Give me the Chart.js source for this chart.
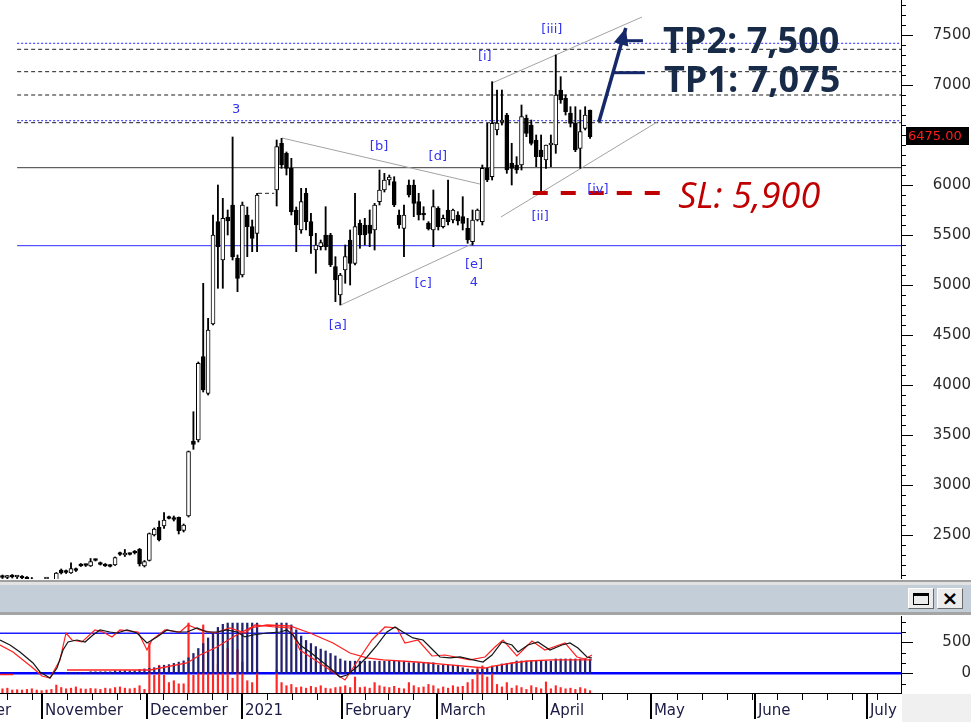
<!DOCTYPE html>
<html>
<head>
<meta charset="utf-8">
<script src="https://cdn.jsdelivr.net/npm/chart.js@4.4.1/dist/chart.umd.min.js"></script>
<style>
  body { margin:0; background:#fff; width:971px; height:722px; overflow:hidden; position:relative; }
  canvas { position:absolute; left:0; }
  #main { top:0; }
  #ind { top:615px; }
  .strip { position:absolute; left:0; width:971px; }
  .btn { position:absolute; top:588px; width:26px; height:21px; background:#ececec; box-sizing:border-box;
         border:1px solid; border-color:#fff #6a6a6a #6a6a6a #fff; }
</style>
</head>
<body>
<div class="strip" style="top:580px;height:2px;background:#a0a0a0"></div>
<div class="strip" style="top:582px;height:3px;background:#e2e2e2"></div>
<div class="strip" style="top:585px;height:27px;background:#c3ced9"></div>
<div class="strip" style="top:612px;height:3px;background:#a4a4a4"></div>
<div class="btn" style="left:908px"><div style="position:absolute;left:4px;top:4px;width:16px;height:12px;box-sizing:border-box;border:1px solid #000;border-top-width:3px"></div></div>
<div class="btn" style="left:937px;font:bold 20px 'DejaVu Sans';line-height:18px;text-align:center;color:#000">×</div>
<div style="position:absolute;left:902px;top:694px;width:69px;height:28px;background:#f0f0f0"></div>
<canvas id="main" width="971" height="579"></canvas>
<canvas id="ind" width="971" height="107"></canvas>
<script>
// daily candles, one per trading-day slot (null = no session)
const candleOpen = [
  2085,2075,2090,2080,2085,2070,2060,2030,2000,1980,
  1995,2045,2150,2140,2120,2160,2205,2205,2190,2255,
  2220,2210,2200,2200,2320,2300,2315,2330,2357,2190,
  2245,2500,2577,2590,2675,2670,2677,2545,2690,3440,
  3450,4283,3917,4610,5633,5250,5680,5800,5267,5100,
  5700,5583,5517,null,null,null,5950,6417,6317,6167,
  5750,5550,5917,5633,5350,5383,5500,5500,5183,4900,
  5150,5450,5217,5617,5600,5600,5550,5833,5950,6050,
  6033,5700,5567,6000,6000,5833,5720,5620,5550,5767,
  5583,5750,5650,5700,5683,5567,5433,5650,5633,6167,
  6083,6550,6630,6700,6217,6200,6200,6667,6600,6450,
  6350,6250,6400,6400,6950,6867,6720,6617,6367,6567,6750];
const candleHigh = [
  2100,2095,2105,2095,2095,2085,2075,2050,2020,2010,
  2040,2125,2160,2150,2222,2170,2215,2210,2265,2260,
  2230,2215,2205,2280,2330,2355,2320,2345,2365,2245,
  2520,2570,2640,2725,2690,2690,2680,2610,3340,3733,
  4230,5017,4667,5700,6000,5867,5750,6480,5300,5830,
  5780,5650,5917,null,null,null,6450,6467,6330,6267,
  5780,5967,5967,5717,5517,5450,5783,5517,5283,5117,
  5400,5550,5917,5650,5667,5750,5817,6150,6117,6100,
  6083,5750,5800,6050,6050,5917,5783,5633,5950,5783,
  5700,6050,5760,5733,5883,5667,5750,5760,6200,6617,
  7033,6950,6950,6717,6417,6283,6800,6700,6650,6500,
  6500,6400,6500,7300,7083,6900,6783,6783,6750,6783,6750];
const candleLow = [
  2065,2060,2070,2065,2055,2045,2020,1990,1960,1950,
  1980,2040,2110,2115,2115,2135,2185,2185,2185,2240,
  2200,2185,2180,2195,2295,2285,2300,2310,2190,2180,
  2240,2490,2440,2565,2660,2640,2510,2530,2680,3357,
  3430,3930,3900,4600,4967,4967,5500,5250,4933,5080,
  5283,5333,5333,null,null,null,5790,6167,6100,5700,
  5333,5517,5550,5317,5117,5350,5350,5183,4833,4800,
  5017,5000,5200,5367,5400,5383,5350,5800,5930,6000,
  5783,5567,5283,5880,5683,5650,5650,5550,5383,5550,
  5570,5600,5620,5600,5550,5417,5400,5640,5600,6033,
  6050,6500,6600,6117,6000,6117,6150,6483,6400,6183,
  5917,6167,6183,6317,6817,6700,6580,6333,6167,6550,6467];
const candleClose = [
  2075,2090,2080,2085,2070,2060,2030,2000,1980,1995,
  2030,2118,2120,2125,2165,2145,2190,2195,2233,2245,
  2205,2190,2185,2275,2305,2320,2305,2320,2210,2235,
  2515,2560,2450,2650,2665,2655,2543,2600,3333,3407,
  4217,3950,4550,5500,5383,5667,5640,5280,5067,5800,
  5583,5467,5900,null,null,null,6383,6200,6167,5733,
  5600,5833,5633,5490,5400,5423,5383,5200,5050,5100,
  5283,5217,5583,5500,5500,5517,5800,5950,6050,6080,
  5800,5600,5700,5900,5817,5700,5700,5560,5783,5583,
  5667,5633,5750,5640,5617,5450,5650,5750,6167,6050,
  6617,6620,6645,6150,6167,6150,6683,6517,6417,6283,
  6283,6400,6417,6900,6850,6733,6617,6350,6533,6700,6483];
const lastPrice = 6475;

// indicator pane
const histValues = [
  null,null,null,null,null,null,null,null,null,null,
  null,null,null,10,10,10,10,10,25,25,
  25,25,25,40,40,40,40,40,60,70,
  80,90,110,130,140,160,180,200,250,320,
  400,480,570,660,740,790,810,810,810,810,
  810,810,810,null,null,null,810,810,810,780,
  700,600,530,480,430,390,360,320,280,230,
  200,195,195,195,195,195,195,195,195,195,
  195,195,195,170,170,170,170,170,170,130,
  130,130,130,130,90,70,60,55,65,85,
  100,118,150,160,166,198,198,198,198,198,
  198,198,198,231,231,231,231,231,231,231,231];
const volumeValues = [
  -250,-240,-270,-265,-270,-260,-250,-270,-280,-270,
  -260,-190,-230,-250,-240,-220,-250,-255,-245,-250,
  -260,-240,-250,-230,-220,-240,-250,-240,-200,-260,
  489,-30,130,-30,-150,-120,-170,-170,810,-30,
  20,780,380,620,150,0,400,-80,380,180,
  -120,-150,50,null,null,null,50,-150,-200,-180,
  -230,-220,-240,-210,-230,-200,-240,-250,-230,-220,
  -200,-230,-60,-230,-220,-240,-150,-200,-220,-230,
  -210,-240,-250,-150,-200,-230,-220,-180,-200,-250,
  -220,-240,-200,-220,-210,-150,-100,80,120,-60,
  120,-180,-220,-150,-240,-200,-230,-260,-200,-230,
  -250,-140,-250,-200,-230,-250,-240,-260,-230,-250,-280];
const oscX = [0,2.04,4.08,6.74,8.17,10.21,11.64,12.87,13.89,15.72,
  17.36,18.99,20.42,22.46,23.89,25.93,27.98,30.02,32.06,34.1,
  36.14,38.19,40.23,42.27,44.31,46.36,48.4,50.03,51.66,54.52,
  57.18,58.61,59.83,61.26,63.3,65.35,67.39,69.43,70.86,72.9,
  74.94,76.99,79.03,80.66,82.29,84.34,86.38,88.42,89.85,91.89,
  93.94,96.59,98.63,100.47,102.51,104.55,105.78,107.82,109.86,112.31,
  114.76,116.4,118.03,119.87,120.89];
const oscValues = [537,456,344,166,21,-76,85,376,505,537,
  505,618,699,666,650,699,650,489,586,699,
  666,666,731,666,666,699,666,586,618,650,
  666,699,618,456,344,215,85,-60,-27,102,
  263,456,666,747,666,570,537,376,263,247,
  263,215,182,295,505,456,344,456,505,376,
  456,489,408,263,247];
const sigX = [0,2.65,6.74,8.58,10.21,12.25,13.48,14.7,16.74,19.4,
  21.03,22.87,24.5,28.18,30.02,31.04,33.69,36.76,38.39,40.84,
  43.9,46.97,50.03,52.07,56.16,59.22,61.26,64.33,67.39,70.45,
  72.49,75.96,78.62,81.07,82.7,85.36,88.22,90.87,95.98,99.04,
  101.08,102.72,105.57,108.64,111.29,115.38,117.83,119.46,120.89];
const sigValues = [456,344,85,-44,-76,215,650,537,505,699,
  666,586,699,666,376,537,699,666,779,699,
  650,731,650,779,747,731,376,215,53,-108,
  134,537,747,731,489,537,279,295,215,263,
  424,537,279,521,376,489,263,231,295];
const maX = [0,2.7,2.8,13.68,30.63,38.19,40.84,44.31,47.58,51.05,54.52,59.22,63.3,68,71.47,74.94,78.21,85.15,91.89,99.04,101.08,104.55,107.82,112.72,120.89];
const maValues = [-20,-20,null,53,53,166,295,424,586,731,779,763,650,489,327,247,215,182,134,85,118,166,198,215,215];
const oscLevels = [645, 0];

// axes
const SLOTS = 184;
const priceTicks = [2500,3000,3500,4000,4500,5000,5500,6000,7000,7500];
const oscTicks = [0, 500];
const monthTicks = [-10.6,8.58,30.02,49.42,69.84,89.24,111.7,132.94,154.18,177.05];
const monthNames = ['October','November','December','2021','February','March','April','May','June','July'];
const weekTicks = [1.37,6.47,13.62,18.73,23.83,28.59,33.35,38.12,43.23,46.29,54.46,59.57,64.67,74.54,79.29,84.4,
  94.28,98.36,103.47,108.58,117.77,122.87,127.98,138.19,143.3,148.4,153.51,158.61,163.72,168.82,173.93,179.03];

// drawn studies (chart coordinates: slot, price)
const levelValues = [7417,7357,7133,6900,6643,6623,6173,5393];
const levelKinds  = ['blueDot','dash','dash','dash','blueDot','dash','solid','blue'];
const trendLines = [[57.6,6470,98.0,6010],[69.6,4800,96.8,5420],[100.5,7020,131.1,7680],[102.3,5680,134.2,6630]];
const arrowLine = [122.3,6630,127.8,7570];
const targetLines = [[128.0,7443,131.3,7443],[125.2,7123,131.7,7123]];
const stopLine = [108.8,5920,134.8,5920];
const gapLine = [52.7,5917,56.0,5917];
const waveText = ['3','[b]','[d]','[a]','[c]','[e]','4','[i]','[iii]','[ii]','[iv]'];
const waveX = [48.2,77.4,89.4,69.0,86.4,96.8,96.8,99.0,112.7,110.3,122.1];
const waveY = [6750,6380,6280,4590,5010,5200,5020,7280,7550,5680,5950];
const noteText = ['TP2: 7,500','TP1: 7,075','SL: 5,900'];
const noteX = [135.4,135.6,138.5];
const noteY = [7320,6933,5770];

const NAVY = '#15296a';
Chart.defaults.font.family = "'DejaVu Sans', sans-serif";

const seg = (pts, color, width, dash, order) => ({
  type:'line', data: pts, borderColor: color, borderWidth: width, borderDash: dash || [],
  pointRadius: 0, fill: false, tension: 0, order: order ?? 0, spanGaps: false
});
const two = ([x0, y0, x1, y1]) => [{x:x0, y:y0}, {x:x1, y:y1}];

const bodies = [], wicks = [], bodyFill = [];
candleOpen.forEach((o, i) => {
  if (o == null) return;
  bodies.push({x: i + .5, y: [o, candleClose[i]]});
  wicks.push({x: i + .5, y: [candleLow[i], candleHigh[i]]});
  bodyFill.push(candleClose[i] >= o ? '#fff' : '#000');
});

const levelStyle = {
  blueDot: ['#2626ff', [2, 2]], dash: ['#1e1e1e', [4, 3]], solid: ['#3a3a3a', []], blue: ['#2a2aff', []]
};
const levelSets = levelValues.map((v, i) => {
  const [c, d] = levelStyle[levelKinds[i]];
  return seg([{x:3.5, y:v}, {x:SLOTS, y:v}], c, 1, d, 10);
});
const trendSets = trendLines.map(t => seg(two(t), '#a3a3a3', 1, [], 9));

const mainDecor = {
  id: 'mainDecor',
  afterDraw(chart) {
    const {ctx, chartArea: a} = chart;
    const X = v => chart.scales.x.getPixelForValue(v), Y = v => chart.scales.y.getPixelForValue(v);
    ctx.save();
    ctx.strokeStyle = '#000'; ctx.lineWidth = 1; ctx.beginPath();
    for (let v = 2100; v <= 7800; v += 100) {
      const py = Math.round(Y(v)) + .5;
      ctx.moveTo(a.right, py); ctx.lineTo(a.right + (v % 500 ? 5 : 12), py);
    }
    ctx.stroke();

    ctx.font = "13px 'DejaVu Sans'"; ctx.fillStyle = '#3434f0';
    ctx.textAlign = 'center'; ctx.textBaseline = 'middle';
    waveText.forEach((t, i) => ctx.fillText(t, X(waveX[i]), Y(waveY[i])));

    // arrow head
    const bx = X(arrowLine[0]), by = Y(arrowLine[1]), ax = X(arrowLine[2]), ay = Y(arrowLine[3]);
    const L = Math.hypot(ax - bx, ay - by), ux = (ax - bx) / L, uy = (ay - by) / L;
    const hx = ax - ux * 17, hy = ay - uy * 17;
    ctx.fillStyle = NAVY; ctx.beginPath();
    ctx.moveTo(ax, ay); ctx.lineTo(hx - uy * 7.5, hy + ux * 7.5); ctx.lineTo(hx + uy * 7.5, hy - ux * 7.5);
    ctx.closePath(); ctx.fill();

    ctx.textAlign = 'left'; ctx.textBaseline = 'alphabetic';
    noteText.forEach((t, i) => {
      const sl = t.startsWith('SL');
      ctx.font = sl ? "italic 36px 'Open Sans'" : "bold 36px 'Open Sans'";
      ctx.fillStyle = sl ? '#c00000' : '#172a48';
      ctx.fillText(t, X(noteX[i]), Y(noteY[i]));
    });

    const py = Y(lastPrice);
    ctx.fillStyle = '#000'; ctx.fillRect(a.right + 5, Math.round(py - 11), 63, 18);
    ctx.fillStyle = '#ff1e1e'; ctx.font = "13px 'DejaVu Sans'"; ctx.textBaseline = 'middle';
    ctx.fillText(lastPrice.toFixed(2), a.right + 7, py - 1);
    ctx.restore();
  }
};

new Chart(document.getElementById('main'), {
  type: 'bar',
  data: { datasets: [
    {type:'bar', data: bodies, backgroundColor: bodyFill, borderColor:'#000', borderWidth:1,
     borderSkipped:false, barThickness:4, minBarLength:2, grouped:false, order:1},
    {type:'bar', data: wicks, backgroundColor:'#000', barThickness:1.2, grouped:false, order:2},
    ...levelSets, ...trendSets,
    seg(two(gapLine), '#1e1e1e', 1, [4, 3], 3),
    seg(two(arrowLine), NAVY, 3.5, [], 0),
    ...targetLines.map(t => seg(two(t), NAVY, 3, [], 0)),
    seg(two(stopLine), '#c00000', 4, [15, 13], 0),
  ]},
  options: {
    responsive:false, animation:false, events:[],
    plugins:{legend:{display:false}, tooltip:{enabled:false}},
    scales:{
      x:{type:'linear', display:false, min:0, max:SLOTS, offset:false},
      y:{type:'linear', position:'right', min:2060, max:7850,
         grid:{display:false, drawTicks:false}, border:{display:true, color:'#000'},
         afterBuildTicks: s => { s.ticks = priceTicks.map(v => ({value:v})); },
         afterFit: s => { s.width = 70; s.paddingTop = 0; s.paddingBottom = 0; },
         ticks:{callback: v => String(v), color:'#2a2a2a', font:{size:15}, padding:28, crossAlign:'far'}}
    }
  },
  plugins:[mainDecor]
});

// indicator pane
const volBars = [], histBars = [];
volumeValues.forEach((v, i) => { if (v != null) volBars.push({x: i + .5, y: [-330, v]}); });
histValues.forEach((v, i) => { if (v != null) histBars.push({x: i + .5, y: [0, v]}); });
const pts = (xs, ys) => xs.map((x, i) => ({x, y: ys[i]}));

const indDecor = {
  id: 'indDecor',
  afterDraw(chart) {
    const {ctx, chartArea: a} = chart;
    const X = v => chart.scales.x.getPixelForValue(v), Y = v => chart.scales.y.getPixelForValue(v);
    ctx.save();
    ctx.strokeStyle = '#000'; ctx.lineWidth = 1; ctx.beginPath();
    for (let k = -1; k <= 5; k++) {
      const py = Math.round(Y(k * 500 / 3)) + .5;
      ctx.moveTo(a.right, py); ctx.lineTo(a.right + (k % 3 === 0 ? 12 : 5), py);
    }
    weekTicks.forEach(t => { const p = Math.round(X(t)) + .5; ctx.moveTo(p, a.bottom); ctx.lineTo(p, a.bottom + 7); });
    ctx.stroke();
    ctx.lineWidth = 2; ctx.beginPath();
    monthTicks.forEach(t => { const p = Math.round(X(t)); ctx.moveTo(p, a.bottom); ctx.lineTo(p, a.bottom + 26); });
    ctx.stroke();
    ctx.restore();
  }
};

new Chart(document.getElementById('ind'), {
  type: 'bar',
  data: { datasets: [
    seg([{x:0, y:oscLevels[0]}, {x:SLOTS, y:oscLevels[0]}], '#1c1cff', 1.5, [], 6),
    seg([{x:0, y:oscLevels[1]}, {x:SLOTS, y:oscLevels[1]}], '#0000ff', 2.5, [], 6),
    {type:'bar', data: volBars, backgroundColor:'#ff2626', barThickness:1.5, grouped:false, order:5},
    {type:'bar', data: histBars, backgroundColor:'#22226e', barThickness:1.6, grouped:false, order:4},
    seg(pts(maX, maValues), '#ff2020', 1.3, [], 3),
    seg(pts(sigX, sigValues), '#ff2020', 1.2, [], 2),
    seg(pts(oscX, oscValues), '#151515', 1.2, [], 1),
  ]},
  options: {
    responsive:false, animation:false, events:[], layout:{padding:{top:1}},
    plugins:{legend:{display:false}, tooltip:{enabled:false}},
    scales:{
      x:{type:'linear', min:0, max:SLOTS, offset:false, position:'bottom',
         grid:{display:false, drawTicks:false}, border:{display:true, color:'#000'},
         afterBuildTicks: s => { s.ticks = monthTicks.map(t => ({value: t + 0.6})); },
         afterFit: s => { s.height = 29; s.paddingLeft = 0; s.paddingRight = 0; },
         ticks:{autoSkip:false, maxRotation:0, minRotation:0, align:'start', padding:9,
                color:'#1b1b45', font:{size:15}, callback:(v, i) => monthNames[i]}},
      y:{type:'linear', position:'right', min:-318, max:924,
         grid:{display:false, drawTicks:false}, border:{display:true, color:'#000'},
         afterBuildTicks: s => { s.ticks = oscTicks.map(v => ({value:v})); },
         afterFit: s => { s.width = 70; s.paddingTop = 0; s.paddingBottom = 0; },
         ticks:{callback: v => String(v), color:'#2a2a2a', font:{size:15}, padding:37, crossAlign:'far'}}
    }
  },
  plugins:[indDecor]
});
</script>
</body>
</html>
